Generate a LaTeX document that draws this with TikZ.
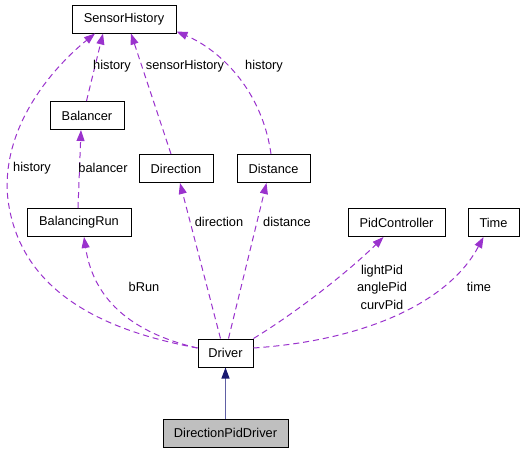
\documentclass[tikz,border=0pt]{standalone}
\usepackage{fontspec}
\setmainfont{Liberation Sans}
\usetikzlibrary{arrows.meta}
\definecolor{dep}{HTML}{9A32CD}
\definecolor{inh}{HTML}{191970}
\definecolor{inhline}{HTML}{6060A4}
\begin{document}
\begin{tikzpicture}[x=1pt,y=-1pt,
  box/.style={draw=black,line width=1pt,fill=white,minimum height=28pt,inner sep=0pt,font=\fontsize{12.8}{15}\selectfont},
  lbl/.style={inner sep=0pt,font=\fontsize{12.8}{15}\selectfont,align=center},
  depe/.style={draw=dep,line width=1pt,dash pattern=on 6pt off 4pt,-{Triangle[length=11pt,width=8pt,fill=dep]}},
  inhe/.style={draw=inhline,line width=1.2pt,-{Triangle[length=11pt,width=8pt,fill=inh,color=inh]}}]
\useasboundingbox (0,0) rectangle (525,453);
\node[box,minimum width=104pt] (sh) at (124,19) {SensorHistory};
\node[box,minimum width=74pt] (bal) at (87,115.5) {Balancer};
\node[box,minimum width=74pt] (dir) at (176,168.5) {Direction};
\node[box,minimum width=73pt] (dis) at (273.5,168.5) {Distance};
\node[box,minimum width=104pt] (br) at (79,222.5) {BalancingRun};
\node[box,minimum width=97pt] (pid) at (396.5,222.5) {PidController};
\node[box,minimum width=51pt] (time) at (493.5,222.5) {Time};
\node[box,minimum width=55pt] (drv) at (225.5,353) {Driver};
\node[box,minimum width=125pt,fill=black!25] (dpd) at (225.5,433) {DirectionPidDriver};

\draw[depe] ([xshift=-0.5pt]bal.north) -- ([xshift=-21pt]sh.south);
\draw[depe] ([xshift=-5pt]dir.north) -- ([xshift=7pt]sh.south);
\draw[depe] ([xshift=-2.5pt]dis.north) .. controls (262,90) and (220,50) .. ([yshift=2pt]sh.south east);
\draw[depe] ([yshift=5pt]drv.west) .. controls (100,330) and (20,290) .. (8,200) .. controls (0,130) and (50,70) .. ([xshift=-29pt]sh.south);
\draw[depe] ([xshift=-1pt]br.north) -- ([xshift=-6pt]bal.south);
\draw[depe] ([yshift=5pt]drv.west) .. controls (120,330) and (92,290) .. ([xshift=5pt]br.south);
\draw[depe] ([xshift=-5pt]drv.north) -- ([xshift=4pt]dir.south);
\draw[depe] ([xshift=3pt]drv.north) -- ([xshift=-7pt]dis.south);
\draw[depe] (drv.north east) .. controls (300,310) and (350,270) .. ([xshift=-13pt]pid.south);
\draw[depe] ([yshift=5pt]drv.east) .. controls (370,340) and (450,300) .. ([xshift=-10pt]time.south);
\draw[inhe] (dpd.north) -- (drv.south);

\node[lbl] (l1) at (112,66) {history};
\node[lbl] (l2) at (185,66) {sensorHistory};
\node[lbl] (l3) at (264,66) {history};
\node[lbl] (l4) at (32,168) {history};
\node[lbl] (l5) at (103,168) {balancer};
\node[lbl] (l6) at (219,222) {direction};
\node[lbl] (l7) at (287,222) {distance};
\node[lbl] (l8) at (144,287) {bRun};
\node[lbl,font=\fontsize{12.8}{17.5}\selectfont] (l9) at (382,287) {lightPid\\anglePid\\curvPid};
\node[lbl] (l10) at (479,287) {time};
\end{tikzpicture}
\end{document}
